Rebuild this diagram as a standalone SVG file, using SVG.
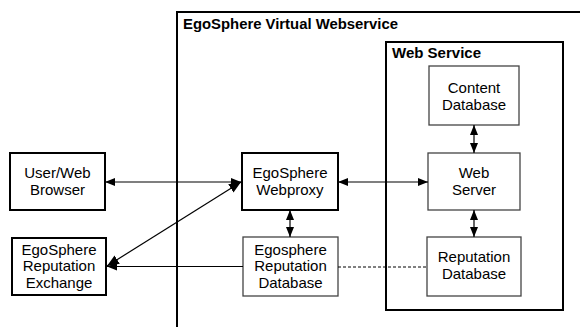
<svg xmlns="http://www.w3.org/2000/svg" width="580" height="327" viewBox="0 0 580 327">
  <defs>
    <marker id="ah" viewBox="0 0 10 8" refX="10" refY="4" markerWidth="10" markerHeight="8" markerUnits="userSpaceOnUse" orient="auto-start-reverse">
      <path d="M0,0 L10,4 L0,8 Z" fill="#000"/>
    </marker>
    <marker id="ahBig" viewBox="0 0 12 10" refX="12" refY="5" markerWidth="12" markerHeight="10" markerUnits="userSpaceOnUse" orient="auto-start-reverse">
      <path d="M0,0 L12,5 L0,10 Z" fill="#000"/>
    </marker>
  </defs>
  <style>
    .bg { fill: #fff; }
    .frame { fill: none; stroke: #000; stroke-width: 2; }
    .strong { fill: #fff; stroke: #000; stroke-width: 2; }
    .light { fill: #fff; stroke: #444; stroke-width: 1.3; }
    .title { font-family: "Liberation Sans", Arial, sans-serif; font-weight: bold; font-size: 14px; fill: #000; }
    .lbl { font-family: "Liberation Sans", Arial, sans-serif; font-size: 15px; fill: #000; text-anchor: middle; }
    .conn { stroke: #000; stroke-width: 1.2; fill: none; }
    .dash { stroke: #000; stroke-width: 1; fill: none; stroke-dasharray: 3 2; }
  </style>
  <rect class="bg" x="0" y="0" width="580" height="327"/>

  <!-- outer virtual webservice frame (open to the right and bottom) -->
  <g id="virtual-webservice">
    <path class="frame" d="M177,327 L177,12 L582,12"/>
    <text class="title" x="183" y="29" textLength="215" lengthAdjust="spacingAndGlyphs">EgoSphere Virtual Webservice</text>
  </g>

  <g id="web-service">
    <rect class="frame" x="386" y="42" width="177" height="268"/>
    <text class="title" x="392" y="58" textLength="89" lengthAdjust="spacingAndGlyphs">Web Service</text>
  </g>

  <g id="user-browser">
    <rect class="strong" x="10" y="153" width="95" height="57"/>
    <text class="lbl" x="57.5" y="178">User/Web</text>
    <text class="lbl" x="57.5" y="195">Browser</text>
  </g>

  <g id="reputation-exchange">
    <rect class="strong" x="12" y="238" width="94" height="57"/>
    <text class="lbl" x="59" y="254.5">EgoSphere</text>
    <text class="lbl" x="59" y="271">Reputation</text>
    <text class="lbl" x="59" y="287.5">Exchange</text>
  </g>

  <g id="webproxy">
    <rect class="strong" x="242" y="153" width="96" height="57"/>
    <text class="lbl" x="290" y="178">EgoSphere</text>
    <text class="lbl" x="290" y="195">Webproxy</text>
  </g>

  <g id="egosphere-reputation-db">
    <rect class="light" x="243" y="237" width="95" height="59"/>
    <text class="lbl" x="290.5" y="254.5">Egosphere</text>
    <text class="lbl" x="290.5" y="271">Reputation</text>
    <text class="lbl" x="290.5" y="287.5">Database</text>
  </g>

  <g id="content-db">
    <rect class="light" x="429" y="66" width="90" height="59"/>
    <text class="lbl" x="474" y="93">Content</text>
    <text class="lbl" x="474" y="110">Database</text>
  </g>

  <g id="web-server">
    <rect class="light" x="428" y="153" width="92" height="57"/>
    <text class="lbl" x="474" y="178">Web</text>
    <text class="lbl" x="474" y="195">Server</text>
  </g>

  <g id="reputation-db">
    <rect class="light" x="427" y="237" width="94" height="59"/>
    <text class="lbl" x="474" y="262">Reputation</text>
    <text class="lbl" x="474" y="279">Database</text>
  </g>

  <g id="connectors">
    <line class="conn" x1="105" y1="182" x2="241" y2="182" marker-start="url(#ah)" marker-end="url(#ah)"/>
    <line class="conn" x1="107" y1="266" x2="241" y2="182" marker-start="url(#ahBig)" marker-end="url(#ahBig)"/>
    <line class="conn" x1="243" y1="266.5" x2="107" y2="266.5" marker-end="url(#ah)"/>
    <line class="conn" x1="338" y1="182" x2="428" y2="182" marker-start="url(#ah)" marker-end="url(#ah)"/>
    <line class="conn" x1="290" y1="210" x2="290" y2="237" marker-start="url(#ah)" marker-end="url(#ah)"/>
    <line class="conn" x1="474" y1="125" x2="474" y2="153" marker-start="url(#ah)" marker-end="url(#ah)"/>
    <line class="conn" x1="474" y1="210" x2="474" y2="237" marker-start="url(#ah)" marker-end="url(#ah)"/>
    <line class="dash" x1="338" y1="267" x2="427" y2="267"/>
  </g>
</svg>
